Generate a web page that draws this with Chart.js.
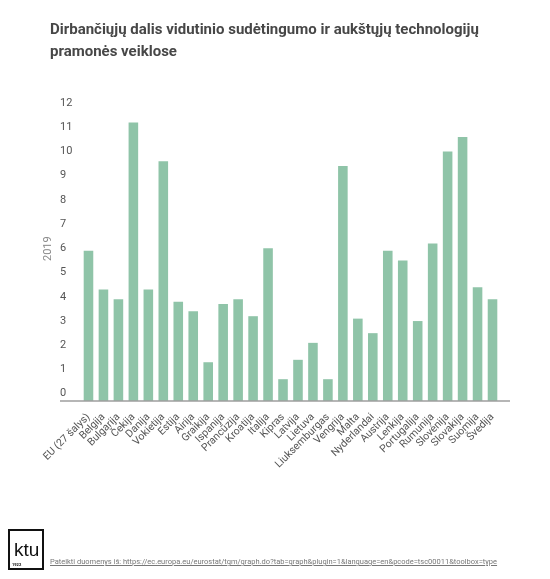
<!DOCTYPE html>
<html lang="lt">
<head>
    <meta charset="UTF-8">
    <title>Dirbančiųjų dalis vidutinio sudėtingumo ir aukštųjų technologijų pramonės veiklose</title>
    <script src="https://cdn.jsdelivr.net/npm/chart.js"></script>
    <style>
        body { margin: 0; background: #fff; font-family: Roboto, sans-serif; }
        #wrap { position: relative; width: 550px; height: 579px; overflow: hidden; }
        #title { position: absolute; left: 50px; top: 19px; font-size: 15px; font-weight: bold; color: #474747; line-height: 21.5px; }
        #ytitle { position: absolute; left: 42px; top: 243px; width: 12px; height: 12px; font-size: 11px; line-height: 12px; font-weight: 400; color: #888; transform: rotate(-90deg); white-space: nowrap; text-indent: -6px; }
        #logo { position: absolute; left: 8px; top: 529px; width: 32px; height: 37px; border: 2px solid #111; }
        #logo .k { position: absolute; left: 4px; top: 8px; font-size: 19px; color: #111; font-family: "Liberation Sans", Arial, sans-serif; }
        #logo .y { position: absolute; left: 2px; bottom: 1px; font-size: 4px; color: #111; font-weight: bold; }
        #source { position: absolute; left: 50px; top: 557px; font-size: 7.5px; color: #777; text-decoration: underline; white-space: nowrap; }
        canvas { position: absolute; left: 0; top: 0; }
    </style>
</head>
<body>
<div id="wrap">
    <canvas id="myChart" width="550" height="579"></canvas>
    <div id="title">Dirbančiųjų dalis vidutinio sudėtingumo ir aukštųjų technologijų<br>pramonės veiklose</div>
    <div id="ytitle">2019</div>
    <div id="logo"><span class="k">ktu</span><span class="y">1922</span></div>
    <div id="source">Pateikti duomenys iš: https://ec.europa.eu/eurostat/tgm/graph.do?tab=graph&amp;plugin=1&amp;language=en&amp;pcode=tsc00011&amp;toolbox=type</div>
</div>

<script>
    // Data (2019, % of total employment)
    const countries = ['EU (27 šalys)', 'Belgija', 'Bulgarija', 'Čekija', 'Danija', 'Vokietija', 'Estija', 'Airija',
        'Graikija', 'Ispanija', 'Prancūzija', 'Kroatija', 'Italija', 'Kipras', 'Latvija', 'Lietuva',
        'Liuksemburgas', 'Vengrija', 'Malta', 'Nyderlandai', 'Austrija', 'Lenkija', 'Portugalija',
        'Rumunija', 'Slovėnija', 'Slovakija', 'Suomija', 'Švedija'];
    const values2019 = [5.9, 4.3, 3.9, 11.2, 4.3, 9.6, 3.8, 3.4,
        1.3, 3.7, 3.9, 3.2, 6.0, 0.6, 1.4, 2.1,
        0.6, 9.4, 3.1, 2.5, 5.9, 5.5, 3.0,
        6.2, 10.0, 10.6, 4.4, 3.9];
    const yTicks = [0, 1, 2, 3, 4, 5, 6, 7, 8, 9, 10, 11, 12];

    // axis line runs under the y labels too
    const axisLine = {
        id: 'axisLine',
        afterDraw(chart) {
            const c = chart.ctx;
            const y = chart.scales.y.getPixelForValue(-0.3);
            c.save();
            c.strokeStyle = '#9e9e9e';
            c.lineWidth = 1.5;
            c.beginPath();
            c.moveTo(60, y);
            c.lineTo(510, y);
            c.stroke();
            c.restore();
        }
    };

    const ctx = document.getElementById('myChart').getContext('2d');
    new Chart(ctx, {
        type: 'bar',
        data: {
            labels: countries,
            datasets: [{
                label: '2019',
                data: values2019,
                base: -0.3,
                backgroundColor: '#8fc4a8',
                barPercentage: 0.64,
                categoryPercentage: 1
            }]
        },
        options: {
            responsive: false,
            animation: false,
            layout: { padding: { left: 60, right: 50, top: 103, bottom: 78 } },
            plugins: { legend: { display: false }, tooltip: { enabled: false } },
            scales: {
                x: {
                    grid: { display: false },
                    border: { display: false },
                    ticks: {
                        minRotation: 45, maxRotation: 45, autoSkip: false, padding: 2,
                        color: '#555', font: { family: 'Roboto', size: 10.5 }
                    },
                    afterFit(s) { s.height = 100; }
                },
                y: {
                    min: -0.3, max: 12,
                    grid: { display: false, drawTicks: false },
                    border: { display: false },
                    afterBuildTicks(s) { s.ticks = yTicks.map(v => ({ value: v })); },
                    ticks: { crossAlign: 'far', color: '#555', font: { family: 'Roboto', size: 11 } },
                    afterFit(s) { s.width = 21; }
                }
            }
        },
        plugins: [axisLine]
    });
</script>
</body>
</html>
